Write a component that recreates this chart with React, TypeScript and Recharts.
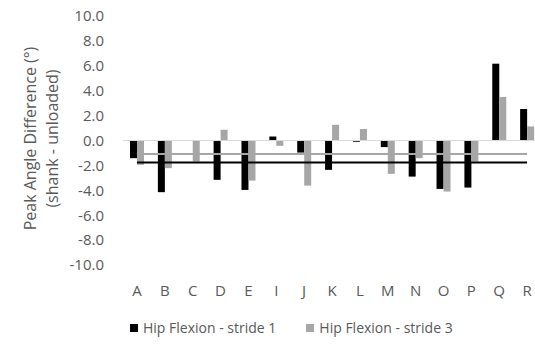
import {
  BarChart,
  Bar,
  XAxis,
  YAxis,
  Legend,
  ReferenceLine,
} from "recharts";

const categories = ["A", "B", "C", "D", "E", "I", "J", "K", "L", "M", "N", "O", "P", "Q", "R"];
const stride1 = [-1.42, -4.15, 0, -3.16, -3.97, 0.32, -0.97, -2.36, -0.1, -0.53, -2.9, -3.89, -3.78, 6.17, 2.53];
const stride3 = [-1.95, -2.22, -1.69, 0.86, -3.22, -0.43, -3.62, 1.26, 0.92, -2.68, -1.42, -4.1, -1.69, 3.49, 1.13];
const yTicks = [-10, -8, -6, -4, -2, 0, 2, 4, 6, 8, 10];

// mean lines drawn across the categories
const meanStride1 = -1.77;
const meanStride3 = -1.09;

const data = categories.map((name, i) => ({
  name,
  s1: stride1[i],
  s3: stride3[i],
}));

const FONT = "'Open Sans', sans-serif";
const TEXT = "#595959";

const YLabel = (props: any) => {
  const vb = props.viewBox || {};
  const cy = vb.y + vb.height / 2 - 2;
  return (
    <g>
      <text
        x={30}
        y={cy}
        transform={`rotate(-90, 30, ${cy})`}
        textAnchor="middle"
        dominantBaseline="central"
        fill={TEXT}
        fontSize={16}
        fontFamily={FONT}
      >
        Peak Angle Difference (°)
      </text>
      <text
        x={52}
        y={cy}
        transform={`rotate(-90, 52, ${cy})`}
        textAnchor="middle"
        dominantBaseline="central"
        fill={TEXT}
        fontSize={16}
        fontFamily={FONT}
      >
        (shank - unloaded)
      </text>
    </g>
  );
};

const LegendContent = (props: any) => {
  const items = props.payload || [];
  return (
    <div style={{ display: "flex", alignItems: "center", fontFamily: FONT, fontSize: 14, color: TEXT }}>
      {items.map((p: any, i: number) => (
        <div key={i} style={{ display: "flex", alignItems: "center", marginRight: 30 }}>
          <span style={{ width: 8, height: 8, background: p.color, marginRight: 5, display: "inline-block" }} />
          <span>{p.value}</span>
        </div>
      ))}
    </div>
  );
};

const App = () => {
  return (
    <div
      style={{
        position: "absolute",
        left: 0,
        top: 0,
        width: 535,
        height: 344,
        overflow: "hidden",
        background: "#fff",
      }}
    >
      <BarChart
        width={541}
        height={344}
        data={data}
        margin={{ top: 16, right: 0, bottom: 0, left: 0 }}
        barGap={0}
        barSize={7}
      >
        <XAxis
          dataKey="name"
          axisLine={false}
          tickLine={false}
          tickSize={0}
          tickMargin={20}
          interval={0}
          height={53}
          tick={{ fill: TEXT, fontSize: 15, fontFamily: FONT }}
        />
        <YAxis
          domain={[-10, 10]}
          ticks={yTicks}
          width={123}
          axisLine={false}
          tickLine={false}
          tickSize={0}
          tickMargin={19}
          tickFormatter={(v: number) => v.toFixed(1)}
          tick={{ fill: TEXT, fontSize: 15, fontFamily: FONT }}
          label={<YLabel />}
        />
        <ReferenceLine y={0} stroke="#d9d9d9" strokeWidth={1} />
        <Bar dataKey="s1" name="Hip Flexion - stride 1" fill="#000000" isAnimationActive={false} />
        <Bar dataKey="s3" name="Hip Flexion - stride 3" fill="#a6a6a6" isAnimationActive={false} />
        <ReferenceLine
          segment={[
            { x: "A", y: meanStride3 },
            { x: "R", y: meanStride3 },
          ]}
          stroke="#a6a6a6"
          strokeWidth={2}
        />
        <ReferenceLine
          segment={[
            { x: "A", y: meanStride1 },
            { x: "R", y: meanStride1 },
          ]}
          stroke="#000000"
          strokeWidth={2}
        />
        <Legend
          verticalAlign="bottom"
          height={26}
          wrapperStyle={{ left: 130, width: 400 }}
          content={<LegendContent />}
        />
      </BarChart>
    </div>
  );
};

export default App;
